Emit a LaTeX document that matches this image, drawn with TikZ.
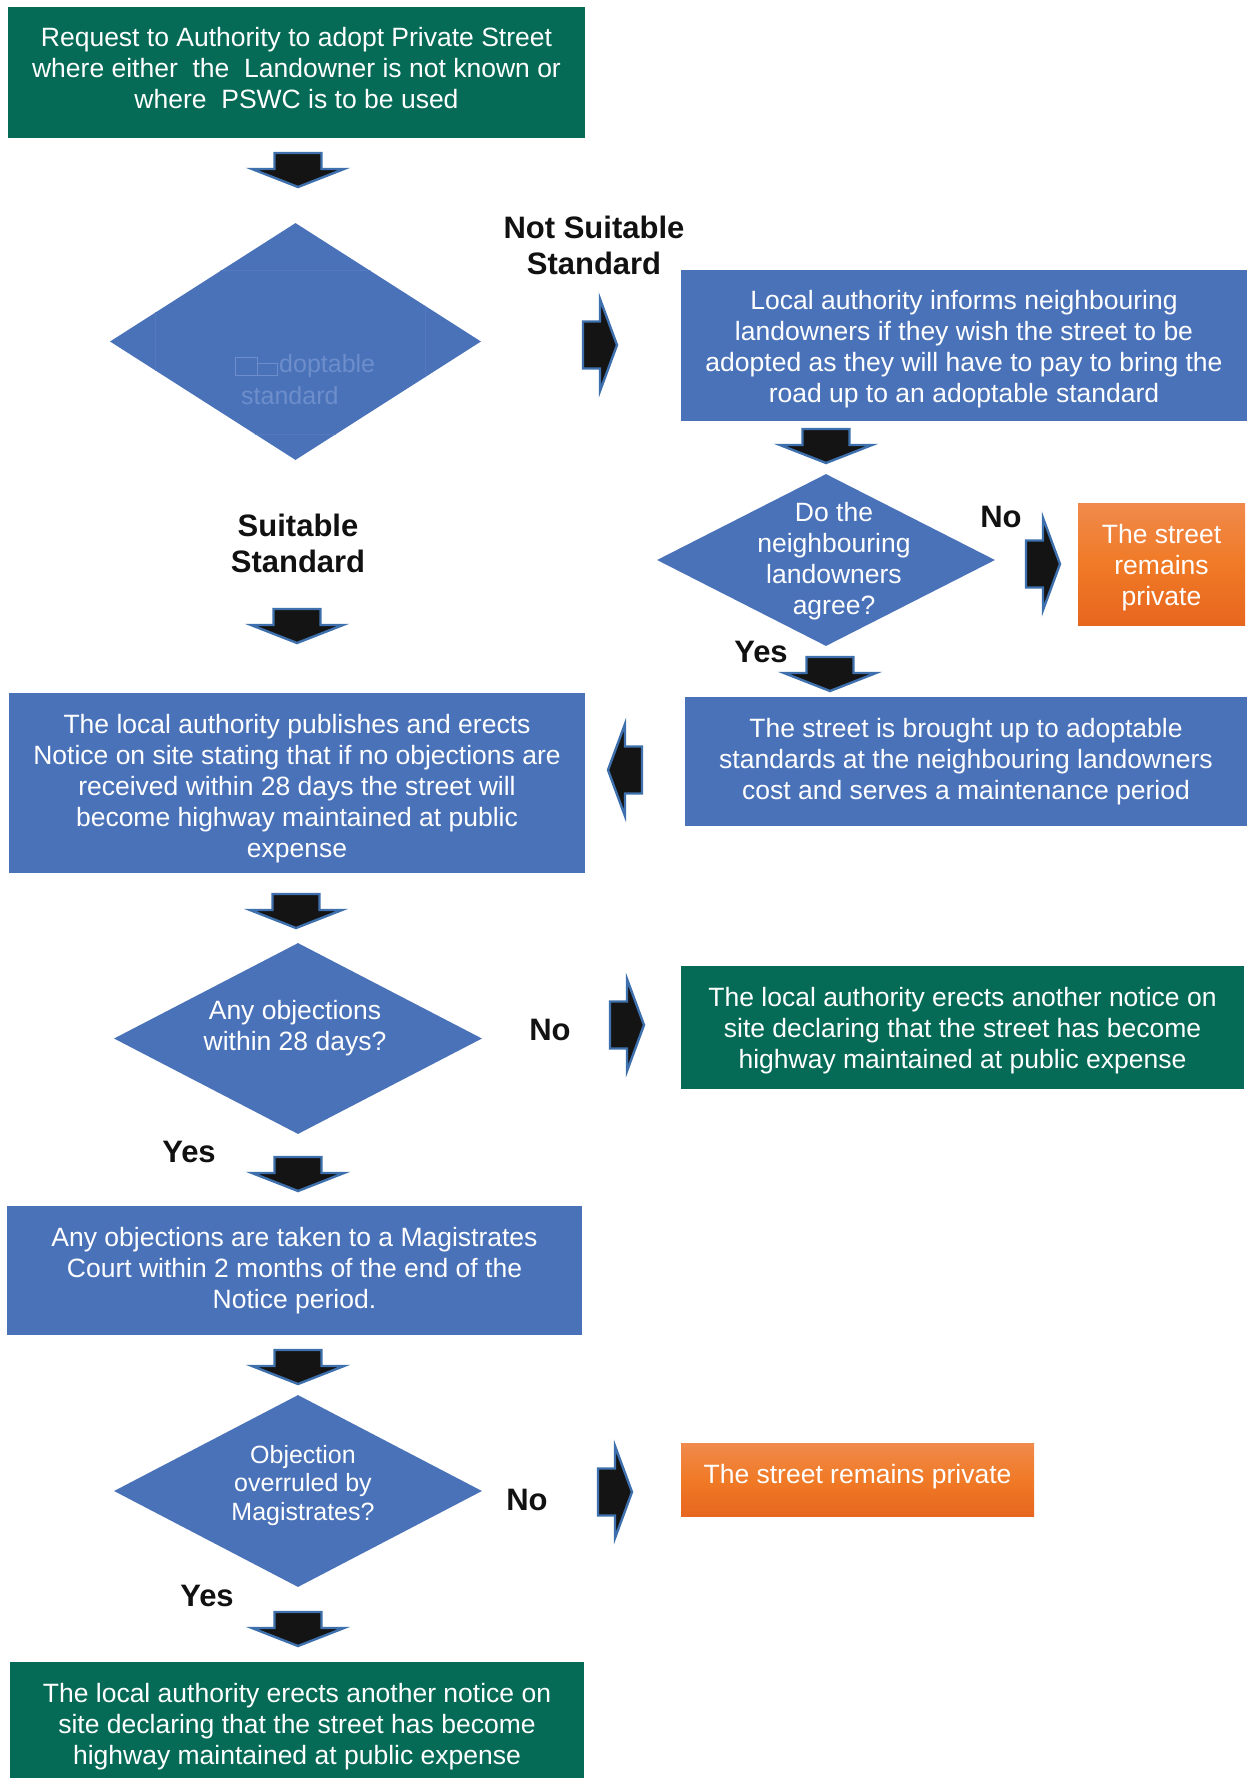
\documentclass[tikz,border=0pt]{standalone}
\usepackage{fontspec}
\setmainfont{Liberation Sans}
\usetikzlibrary{shapes.geometric}

\definecolor{boxblue}{HTML}{4A72B9}
\definecolor{boxgreen}{HTML}{056B56}
\definecolor{orangetop}{HTML}{F08A4C}
\definecolor{orangemid}{HTML}{F07A26}
\definecolor{orangebot}{HTML}{E7661F}
\definecolor{arrowedge}{HTML}{3D70AC}
\definecolor{arrowfill}{HTML}{141414}
\definecolor{ghost}{HTML}{6D8ECB}
\definecolor{ghostline}{HTML}{5579BE}
\definecolor{labelink}{HTML}{111111}

\tikzset{
  bodytext/.style={font=\fontsize{26.5}{31}\selectfont, text=white, align=center, inner sep=0pt},
  bluebox/.style={rectangle, fill=boxblue, inner sep=0pt},
  greenbox/.style={rectangle, fill=boxgreen, inner sep=0pt},
  orangebox/.style={rectangle, inner sep=0pt, top color=orangetop, bottom color=orangebot, middle color=orangemid},
  decision/.style={diamond, fill=boxblue, inner sep=0pt},
  branchlabel/.style={font=\bfseries\fontsize{31}{36}\selectfont, text=labelink, align=center, inner sep=0pt},
  arrowshape/.style={fill=arrowfill, draw=arrowedge, line width=2.4pt, line join=miter, miter limit=20},
  downarr/.pic={\draw[arrowshape] (-23.5,-17) -- (23.5,-17) -- (23.5,-1) -- (46,-1) -- (0,17) -- (-46,-1) -- (-23.5,-1) -- cycle;},
  rightarr/.pic={\draw[arrowshape] (-17,-23.5) -- (0,-23.5) -- (0,-46) -- (17,0) -- (0,46) -- (0,23.5) -- (-17,23.5) -- cycle;},
  leftarr/.pic={\draw[arrowshape] (17,-23.5) -- (0,-23.5) -- (0,-46) -- (-17,0) -- (0,46) -- (0,23.5) -- (17,23.5) -- cycle;},
}

\begin{document}
\begin{tikzpicture}[x=1pt, y=-1pt]
\useasboundingbox (0,0) rectangle (1247,1778);

% ---- left column ----
\node[greenbox, minimum width=577pt, minimum height=131pt] (request) at (296.5,72.5) {};
\node[bodytext] (requestt) at (296.5,68.5)
  {Request to Authority to adopt Private Street\\where either\ \ the\ \ Landowner is not known or\\where\ \ PSWC is to be used};
\pic (a1) at (298,170) {downarr};

\node[decision, minimum width=371pt, minimum height=237pt] (std) at (295.5,341.5) {};
% faint remains of the label inside the first decision
\begin{scope}
  \clip (std.north) -- (std.east) -- (std.south) -- (std.west) -- cycle;
  \draw[ghostline, line width=0.5pt] (155,270) rectangle (425,434);
\end{scope}
\draw[ghost, line width=0.7pt] (235,357) rectangle (257,375) (257,363) rectangle (277,375);
\node[font=\fontsize{25}{30}\selectfont, text=ghost, anchor=west, inner sep=0pt] (stdg1) at (279,366) {doptable};
\node[font=\fontsize{25}{30}\selectfont, text=ghost, anchor=west, inner sep=0pt] (stdg2) at (241,396) {standard};

\node[branchlabel] (notsuit) at (594,245) {Not Suitable\\Standard};
\pic (r1) at (600,345) {rightarr};
\node[branchlabel] (suit) at (298,543) {Suitable\\Standard};
\pic (a4) at (297,626) {downarr};

\node[bluebox, minimum width=576pt, minimum height=180pt] (publish) at (297,783) {};
\node[bodytext] (publisht) at (297,789)
  {The local authority publishes and erects\\Notice on site stating that if no objections are\\received within 28 days the street will\\become highway maintained at public\\expense};
\pic (a5) at (296,911) {downarr};

\node[decision, minimum width=368pt, minimum height=191pt] (obj) at (298,1038.5) {};
\node[bodytext] (objt) at (295,1028) {Any objections\\within 28 days?};
\node[branchlabel] (objno) at (550,1030) {No};
\pic (r3) at (627,1025) {rightarr};
\node[branchlabel] (objyes) at (189,1152) {Yes};
\pic (a6) at (298,1174) {downarr};

\node[bluebox, minimum width=575pt, minimum height=129pt] (court) at (294.5,1270.5) {};
\node[bodytext] (courtt) at (294.5,1270.5)
  {Any objections are taken to a Magistrates\\Court within 2 months of the end of the\\Notice period.};
\pic (a7) at (298,1367) {downarr};

\node[decision, minimum width=368pt, minimum height=192pt] (over) at (298,1491) {};
\node[bodytext, font=\fontsize{25}{28.5}\selectfont] (overt) at (303,1485.5) {Objection\\overruled by\\Magistrates?};
\node[branchlabel] (overno) at (527,1500) {No};
\pic (r4) at (615,1492) {rightarr};
\node[branchlabel] (overyes) at (207,1596) {Yes};
\pic (a8) at (298,1629) {downarr};

\node[greenbox, minimum width=574pt, minimum height=116pt] (adopted) at (297,1720) {};
\node[bodytext] (adoptedt) at (297,1727)
  {The local authority erects another notice on\\site declaring that the street has become\\highway maintained at public expense};

% ---- right column ----
\node[bluebox, minimum width=566pt, minimum height=151pt] (inform) at (964,345.5) {};
\node[bodytext] (informt) at (964,349.5)
  {Local authority informs neighbouring\\landowners if they wish the street to be\\adopted as they will have to pay to bring the\\road up to an adoptable standard};
\pic (a2) at (826,446) {downarr};

\node[decision, minimum width=338pt, minimum height=172pt] (agree) at (826,560) {};
\node[bodytext] (agreet) at (834,561.5) {Do the\\neighbouring\\landowners\\agree?};
\node[branchlabel] (agreeno) at (1001,517) {No};
\pic (r2) at (1043,564) {rightarr};
\node[orangebox, minimum width=167pt, minimum height=122pt] (private1) at (1161.5,564) {};
\node[bodytext] (private1t) at (1161.5,567.5) {The street\\remains\\private};
\node[branchlabel] (agreeyes) at (761,652) {Yes};
\pic (a3) at (830,674) {downarr};

\node[bluebox, minimum width=562pt, minimum height=129pt] (works) at (966,761.5) {};
\node[bodytext] (workst) at (966,761.5)
  {The street is brought up to adoptable\\standards at the neighbouring landowners\\cost and serves a maintenance period};
\pic (l1) at (625,770) {leftarr};

\node[greenbox, minimum width=563pt, minimum height=123pt] (declared) at (962.5,1027.5) {};
\node[bodytext] (declaredt) at (962.5,1031)
  {The local authority erects another notice on\\site declaring that the street has become\\highway maintained at public expense};

\node[orangebox, minimum width=353pt, minimum height=73pt] (private2) at (857.5,1479.5) {};
\node[bodytext] (private2t) at (857.5,1477) {The street remains private};
\end{tikzpicture}
\end{document}
